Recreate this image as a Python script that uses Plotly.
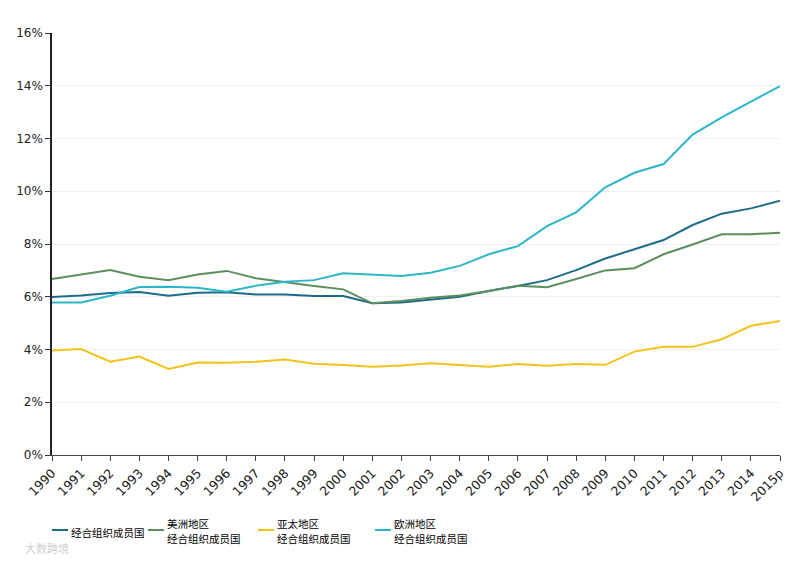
import plotly.graph_objects as go

years = ["1990", "1991", "1992", "1993", "1994", "1995", "1996", "1997", "1998", "1999",
         "2000", "2001", "2002", "2003", "2004", "2005", "2006", "2007", "2008", "2009",
         "2010", "2011", "2012", "2013", "2014", "2015p"]

oecd = [5.99, 6.05, 6.14, 6.18, 6.04, 6.15, 6.17, 6.09, 6.09, 6.03,
        6.03, 5.75, 5.78, 5.88, 6.00, 6.22, 6.41, 6.63, 7.01, 7.45,
        7.80, 8.15, 8.72, 9.15, 9.35, 9.64]
americas = [6.67, 6.84, 7.01, 6.76, 6.63, 6.84, 6.98, 6.70, 6.55, 6.41,
            6.28, 5.75, 5.84, 5.96, 6.05, 6.22, 6.42, 6.36, 6.67, 7.00,
            7.08, 7.61, 7.98, 8.37, 8.37, 8.43]
asia_pacific = [3.96, 4.02, 3.54, 3.73, 3.26, 3.51, 3.50, 3.54, 3.62, 3.46,
                3.41, 3.35, 3.39, 3.48, 3.41, 3.35, 3.45, 3.38, 3.45, 3.42,
                3.92, 4.10, 4.10, 4.39, 4.90, 5.08]
europe = [5.78, 5.78, 6.04, 6.37, 6.38, 6.34, 6.19, 6.42, 6.57, 6.63,
          6.89, 6.85, 6.79, 6.91, 7.17, 7.61, 7.92, 8.68, 9.20, 10.15,
          10.70, 11.03, 12.15, 12.80, 13.40, 13.99]

names = [["经合组织成员国"], ["美洲地区", "经合组织成员国"],
         ["亚太地区", "经合组织成员国"], ["欧洲地区", "经合组织成员国"]]
series = [oecd, americas, asia_pacific, europe]
colors = ["#1d6b8a", "#5b8f5e", "#f3c21b", "#2cb6c9"]

# legend key placement (pixels in the reference picture)
key_x0 = [52, 148, 258, 375]
key_y = 530

OFF = 8  # page body margin offset of the rendered figure
W, H = 801, 565
L, T = 52 - OFF, 33 - OFF
R = W - (780 - OFF)
B = H - (455 - OFF)
pw, ph = W - L - R, H - T - B


def px_x(px):
    return (px - OFF - L) / pw


def px_y(py):
    return (H - B - (py - OFF)) / ph


font_cjk = "Noto Sans CJK SC"

fig = go.Figure()
for name, vals, col in zip(names, series, colors):
    fig.add_trace(go.Scatter(x=years, y=vals, mode="lines", name="".join(name),
                             line=dict(color=col, width=2), showlegend=False))

shapes = []
annotations = []
for name, col, x0 in zip(names, colors, key_x0):
    shapes.append(dict(type="line", xref="paper", yref="paper",
                       x0=px_x(x0), x1=px_x(x0 + 16), y0=px_y(key_y), y1=px_y(key_y),
                       line=dict(color=col, width=2)))
    if len(name) == 1:
        ys = [key_y + 2]
    else:
        ys = [key_y - 7, key_y + 8]
    for line_text, yy in zip(name, ys):
        annotations.append(dict(xref="paper", yref="paper", x=px_x(x0 + 17), y=px_y(yy),
                                xanchor="left", yanchor="middle", align="left", showarrow=False,
                                text=line_text,
                                font=dict(family=font_cjk, size=10.5, color="#000000")))

annotations.append(dict(
    xref="paper", yref="paper", x=px_x(23), y=px_y(548),
    xanchor="left", yanchor="middle", showarrow=False,
    text="大数跨境", font=dict(family=font_cjk, size=11, color="#d0d0d0"),
))

fig.update_layout(
    width=W, height=H,
    margin=dict(l=L, r=R, t=T, b=B, autoexpand=False),
    plot_bgcolor="white", paper_bgcolor="white",
    font=dict(family="DejaVu Sans, sans-serif", size=12, color="#222222"),
    showlegend=False,
    xaxis=dict(
        type="category", range=[0, 25], tickangle=-45,
        tickmode="array", tickvals=years, ticktext=years,
        showline=True, linecolor="#444444", linewidth=1,
        ticks="outside", ticklen=5, tickcolor="#444444",
        showgrid=False, tickfont=dict(size=12.5, color="#1a1a1a"),
    ),
    yaxis=dict(
        range=[0, 16], dtick=2, ticksuffix="%",
        showline=True, linecolor="#222222", linewidth=1.5,
        ticks="outside", ticklen=5, tickcolor="#333333",
        showgrid=True, gridcolor="#efefef", gridwidth=1,
        zeroline=False, tickfont=dict(size=12, color="#222222"),
    ),
    shapes=shapes,
    annotations=annotations,
)

fig.write_html("out.html")
